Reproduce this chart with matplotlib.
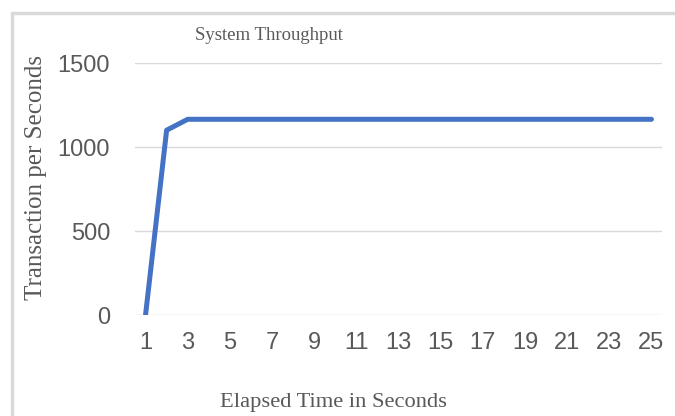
import matplotlib.pyplot as plt
from matplotlib.patches import Rectangle

seconds = list(range(1, 26))
tps = [0, 1100] + [1165] * 23
xticks = list(range(1, 26, 2))
yticks = [0, 500, 1000, 1500]

W, H = 675, 416
fig = plt.figure(figsize=(W / 100, H / 100), dpi=100)

# chart border (Excel style, cut at right/bottom)
fig.patches.append(Rectangle((12 / W, -0.1), 1.2, 1 - 13 / H + 0.1, transform=fig.transFigure,
                             fill=False, edgecolor='#d9d9d9', linewidth=2.5))

ax = fig.add_axes([135 / W, 1 - 315 / H, (662 - 135) / W, (315 - 63) / H])
ax.plot(seconds, tps, color='#4472C4', linewidth=3.6, solid_capstyle='round')

ax.set_xlim(0.5, 25.5)
ax.set_ylim(0, 1500)
ax.set_xticks(xticks)
ax.set_yticks(yticks)
ax.grid(axis='y', color='#d9d9d9', linewidth=1)
ax.set_axisbelow(True)
for s in ax.spines.values():
    s.set_visible(False)
ax.tick_params(length=0, labelsize=17, labelcolor='#595959')
ax.tick_params(axis='y', pad=18)
ax.tick_params(axis='x', pad=12)
for lab in ax.get_xticklabels() + ax.get_yticklabels():
    lab.set_fontfamily(['Liberation Sans Narrow', 'Liberation Sans'])

fig.text(269 / W, 1 - 35 / H, 'System Throughput', ha='center', va='center',
         fontsize=13.5, family='Liberation Serif', color='#595959')
fig.text(36 / W, 1 - 178 / H, 'Transaction per Seconds', ha='center', va='center',
         rotation=90, fontsize=18, family='Liberation Serif', color='#595959')
fig.text(333 / W, 1 - 403 / H, 'Elapsed Time in Seconds', ha='center', va='center',
         fontsize=16.2, family='Liberation Serif', color='#595959')

fig.savefig('out.png', dpi=100)
